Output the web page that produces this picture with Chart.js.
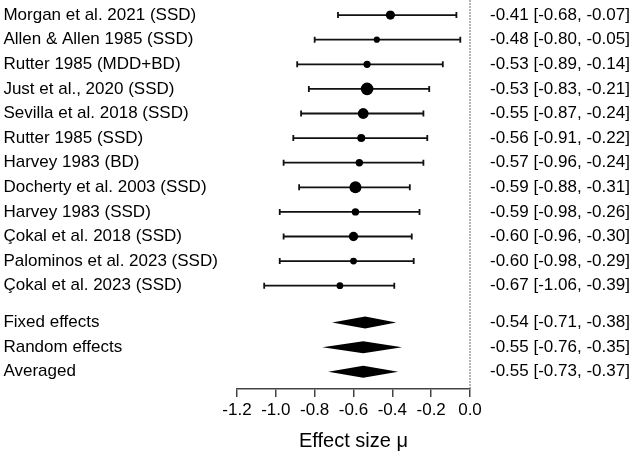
<!DOCTYPE html>
<html>
<head>
<meta charset="utf-8">
<script src="https://cdn.jsdelivr.net/npm/chart.js"></script>
<style>
  html,body{margin:0;padding:0;background:#fff}
  #wrap{width:633px;height:458px;position:relative}
</style>
</head>
<body>
<div id="wrap"><canvas id="forest"></canvas></div>
<script>
/* ---------- data */
const STUDIES = ['Morgan et al. 2021 (SSD)','Allen & Allen 1985 (SSD)','Rutter 1985 (MDD+BD)',
  'Just et al., 2020 (SSD)','Sevilla et al. 2018 (SSD)','Rutter 1985 (SSD)','Harvey 1983 (BD)',
  'Docherty et al. 2003 (SSD)','Harvey 1983 (SSD)','Çokal et al. 2018 (SSD)',
  'Palominos et al. 2023 (SSD)','Çokal et al. 2023 (SSD)'];
const EST  = [-0.41,-0.48,-0.53,-0.53,-0.55,-0.56,-0.57,-0.59,-0.59,-0.60,-0.60,-0.67];
const LO   = [-0.68,-0.80,-0.89,-0.83,-0.87,-0.91,-0.96,-0.88,-0.98,-0.96,-0.98,-1.06];
const HI   = [-0.07,-0.05,-0.14,-0.21,-0.24,-0.22,-0.24,-0.31,-0.26,-0.30,-0.29,-0.39];
const WEIGHT_R = [4.6,3.1,3.6,6.3,5.4,4.0,3.7,6.0,3.7,4.7,3.4,3.4];   // marker radius ~ weight

const POOLED     = ['Fixed effects','Random effects','Averaged'];
const POOLED_EST = [-0.54,-0.55,-0.55];
const POOLED_LO  = [-0.71,-0.76,-0.73];
const POOLED_HI  = [-0.38,-0.35,-0.37];

const X_TICKS = [-1.2,-1.0,-0.8,-0.6,-0.4,-0.2,0.0];

/* row positions (top to bottom) */
const STUDY_ROWS  = STUDIES.map((_,i)=>i);
const POOLED_ROWS = [12.5,13.5,14.5];
const ALL_ROWS    = STUDY_ROWS.concat(POOLED_ROWS);
const LEFT_TXT    = STUDIES.concat(POOLED);
const ci = (e,l,h)=>`${e.toFixed(2)} [${l.toFixed(2)}, ${h.toFixed(2)}]`;
const RIGHT_TXT   = EST.map((e,i)=>ci(e,LO[i],HI[i]))
  .concat(POOLED_EST.map((e,i)=>ci(e,POOLED_LO[i],POOLED_HI[i])));

const FONT = 'Liberation Sans, Arial, Helvetica, sans-serif';
const Y_MIN = -0.2, Y_MAX = 15.2;

/* ---------- whiskers + diamonds, through the scales */
const forestPlugin = {
  id:'forest',
  beforeDatasetsDraw(chart){
    const {ctx, scales:{x,y}} = chart;
    ctx.save();
    ctx.strokeStyle = '#111';
    ctx.lineWidth = 1.8;
    STUDY_ROWS.forEach((r,i)=>{
      const py = y.getPixelForValue(r);
      const x1 = x.getPixelForValue(LO[i]), x2 = x.getPixelForValue(HI[i]);
      ctx.beginPath();
      ctx.moveTo(x1,py); ctx.lineTo(x2,py);
      ctx.moveTo(x1,py-3); ctx.lineTo(x1,py+3);
      ctx.moveTo(x2,py-3); ctx.lineTo(x2,py+3);
      ctx.stroke();
    });
    ctx.fillStyle = '#000';
    POOLED_ROWS.forEach((r,i)=>{
      const py = y.getPixelForValue(r);
      const xl = x.getPixelForValue(POOLED_LO[i]);
      const xm = x.getPixelForValue(POOLED_EST[i]);
      const xr = x.getPixelForValue(POOLED_HI[i]);
      ctx.beginPath();
      ctx.moveTo(xl,py); ctx.lineTo(xm,py-6); ctx.lineTo(xr,py); ctx.lineTo(xm,py+6);
      ctx.closePath(); ctx.fill();
    });
    ctx.restore();
  }
};

const rowTicks = scale => { scale.ticks = ALL_ROWS.map(v=>({value:v})); };

new Chart(document.getElementById('forest'),{
  type:'scatter',
  data:{
    datasets:[
      { // null-effect reference line
        type:'line',
        data:[{x:0,y:-0.6},{x:0,y:Y_MAX}],
        borderColor:'#666', borderWidth:1.3, borderDash:[1.5,1.5],
        pointRadius:0, fill:false, clip:false
      },
      {
        data:EST.map((e,i)=>({x:e,y:STUDY_ROWS[i]})),
        backgroundColor:'#000', borderColor:'#000', borderWidth:0,
        pointRadius:WEIGHT_R, pointHoverRadius:WEIGHT_R
      }
    ]
  },
  options:{
    responsive:true, maintainAspectRatio:false, animation:false,
    layout:{padding:0},
    plugins:{legend:{display:false},tooltip:{enabled:false}},
    scales:{
      x:{
        type:'linear', min:-1.2, max:0,
        afterBuildTicks:s=>{ s.ticks = X_TICKS.map(v=>({value:v})); },
        afterFit:s=>{ s.height = 69; },
        grid:{drawOnChartArea:false, drawTicks:true, tickLength:8, color:'#444', lineWidth:1.5},
        border:{display:true, color:'#444', width:1.5},
        ticks:{color:'#000', font:{family:FONT,size:17}, padding:3, maxRotation:0,
               callback:v=>v.toFixed(1)},
        title:{display:true, text:'Effect size μ', color:'#000',
               font:{family:FONT,size:20}, padding:{top:8,bottom:5}}
      },
      y:{
        type:'linear', position:'left', reverse:true, min:Y_MIN, max:Y_MAX,
        afterBuildTicks:rowTicks,
        afterFit:s=>{ s.width = 237; },
        grid:{display:false}, border:{display:false},
        ticks:{color:'#000', font:{family:FONT,size:17,lineHeight:1.2}, crossAlign:'far', padding:0,
               autoSkip:false,
               callback:(v,i)=>'\u2009'+LEFT_TXT[i]}
      },
      yR:{
        type:'linear', position:'right', reverse:true, min:Y_MIN, max:Y_MAX, display:true,
        afterBuildTicks:rowTicks,
        afterFit:s=>{ s.width = 163; },
        grid:{display:true, drawOnChartArea:false, drawTicks:true, tickLength:20,
              color:'rgba(0,0,0,0)'},
        border:{display:false},
        ticks:{color:'#000', font:{family:FONT,size:17,lineHeight:1.2}, padding:0, autoSkip:false,
               callback:(v,i)=>RIGHT_TXT[i]}
      }
    }
  },
  plugins:[forestPlugin]
});
</script>
</body>
</html>
